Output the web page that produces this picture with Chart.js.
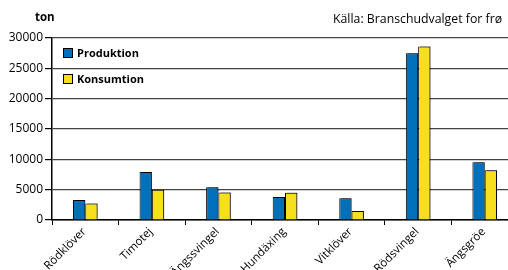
<!DOCTYPE html>
<html>
<head>
<meta charset="utf-8">
<script src="https://cdn.jsdelivr.net/npm/chart.js@4"></script>
<style>
  body { margin: 0; width: 508px; height: 270px; overflow: hidden; background: #fff; position: relative; font-family: "Open Sans", sans-serif; }
  #wrap { position: absolute; left: 0; top: 0; width: 520px; height: 270px; }
  .lbl { position: absolute; color: #000; white-space: nowrap; }
  #unit { left: 35px; top: 9px; font-size: 11.5px; font-weight: bold; }
  #source { left: 333px; top: 10px; font-size: 12.3px; }
  .leg { position: absolute; left: 63px; font-size: 11px; font-weight: bold; display: flex; align-items: center; }
  .leg span { display: inline-block; width: 8px; height: 8px; border: 1px solid #000; margin-right: 4px; }
</style>
</head>
<body>
<div id="wrap"><canvas id="chart" width="520" height="270"></canvas></div>
<div class="lbl" id="unit">ton</div>
<div class="lbl" id="source">Källa: Branschudvalget for frø</div>
<div class="leg" style="top:45px"><span style="background:#0070BA"></span>Produktion</div>
<div class="leg" style="top:71px"><span style="background:#F5DF1F"></span>Konsumtion</div>
<script>
// Frøarter (seed crops)
const categories = ['Rödklöver', 'Timotej', 'Ängssvingel', 'Hundäxing', 'Vitklöver', 'Rödsvingel', 'Ängsgröe'];
const produktion = [3300, 7900, 5400, 3800, 3600, 27500, 9500];
const konsumtion = [2700, 5000, 4550, 4500, 1500, 28600, 8200];
const yTicks = [0, 5000, 10000, 15000, 20000, 25000, 30000];

// small grey drop shadow behind bars, like the original
const barShadow = {
    id: 'barShadow',
    beforeDatasetsDraw(chart) {
        const ctx = chart.ctx;
        ctx.save();
        ctx.shadowColor = 'rgba(0,0,0,0.4)';
        ctx.shadowOffsetX = 2;
        ctx.shadowOffsetY = -1;
        ctx.shadowBlur = 0;
    },
    afterDatasetsDraw(chart) {
        chart.ctx.restore();
    }
};

new Chart(document.getElementById('chart'), {
    type: 'bar',
    data: {
        labels: categories,
        datasets: [
            { label: 'Produktion', data: produktion, backgroundColor: '#0070BA', borderColor: '#000', borderWidth: 1 },
            { label: 'Konsumtion', data: konsumtion, backgroundColor: '#F5DF1F', borderColor: '#000', borderWidth: 1 }
        ]
    },
    options: {
        responsive: false,
        animation: false,
        layout: { padding: { top: 38, right: 2, left: 0, bottom: 0 } },
        datasets: { bar: { categoryPercentage: 0.37, barPercentage: 1 } },
        plugins: { legend: { display: false }, tooltip: { enabled: false } },
        scales: {
            x: {
                offset: true,
                grid: { offset: true, drawOnChartArea: false, color: '#000', tickLength: 5 },
                border: { color: '#000', width: 1.5 },
                ticks: {
                    color: '#000', maxRotation: 45, minRotation: 45, padding: 0, labelOffset: -1,
                    font: { family: 'Open Sans', size: 11.5 }
                },
                afterFit(scale) { scale.height = 50; }
            },
            y: {
                min: 0, max: 30000,
                afterBuildTicks(scale) { scale.ticks = yTicks.map(v => ({ value: v })); },
                grid: { color: '#444', lineWidth: 1.2, tickLength: 7, tickColor: '#000' },
                border: { color: '#000', width: 1.5 },
                ticks: {
                    color: '#000', padding: 2,
                    font: { family: 'Open Sans', size: 12 },
                    callback: v => String(v)
                },
                afterFit(scale) { scale.width = 52; }
            }
        }
    },
    plugins: [barShadow]
});
</script>
</body>
</html>
